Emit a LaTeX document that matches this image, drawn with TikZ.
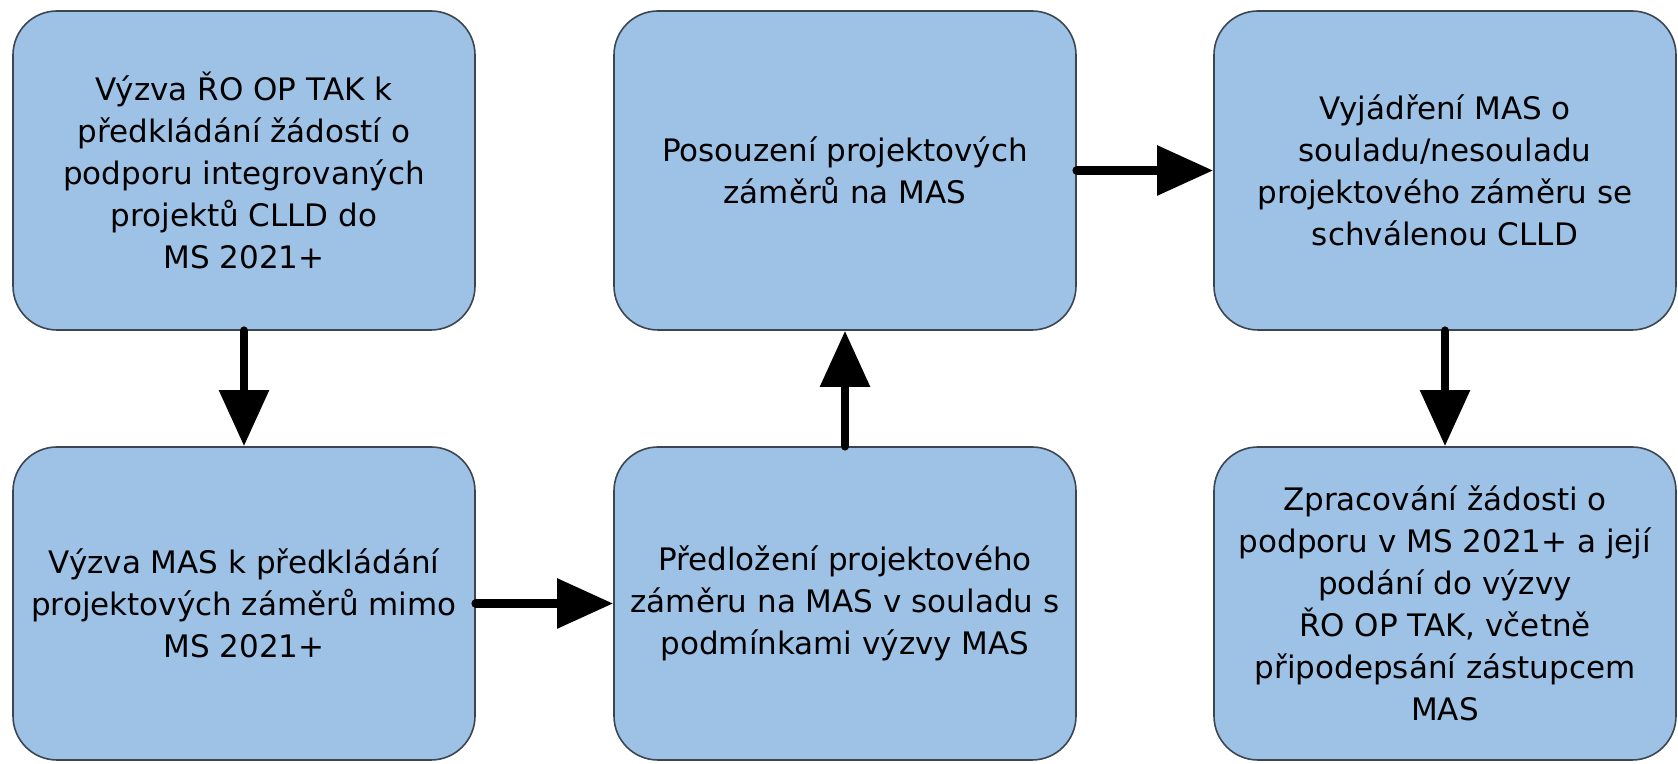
\documentclass[tikz,border=0pt]{standalone}
\usepackage{fontspec}
\setmainfont{DejaVu Sans}
\usetikzlibrary{arrows.meta}
\definecolor{boxblue}{RGB}{157,194,230}
\definecolor{boxline}{RGB}{60,70,82}
\tikzset{
	box/.style={draw=boxline, line width=0.8pt, fill=boxblue, rounded corners=22pt, minimum width=231pt, align=center, font=\fontsize{15.5}{21}\selectfont},
	arr/.style={line width=4.4pt, line cap=round, -{Triangle[width=24pt,length=28pt]}}
}

\begin{document}
\begin{tikzpicture}[x=0.5pt,y=0.5pt]
	\useasboundingbox (0,0) rectangle (1678,764);

	\node[box, minimum height=159.5pt] (vyzvaro) at (244,593.5) {Výzva ŘO OP TAK k\\předkládání žádostí o\\podporu integrovaných\\projektů CLLD do\\MS 2021+};
	\node[box, minimum height=159.5pt] (posouzeni) at (845,593.5) {Posouzení projektových\\záměrů na MAS};
	\node[box, minimum height=159.5pt] (vyjadreni) at (1445,593.5) {Vyjádření MAS o\\souladu/nesouladu\\projektového záměru se\\schválenou CLLD};

	\node[box, minimum height=156.5pt] (vyzvamas) at (244,160.5) {Výzva MAS k předkládání\\projektových záměrů mimo\\MS 2021+};
	\node[box, minimum height=156.5pt] (predlozeni) at (845,160.5) {Předložení projektového\\záměru na MAS v souladu s\\podmínkami výzvy MAS};
	\node[box, minimum height=156.5pt] (zpracovani) at (1445,160.5) {Zpracování žádosti o\\podporu v MS 2021+ a její\\podání do výzvy\\ŘO OP TAK, včetně\\připodepsání zástupcem\\MAS};

	\draw[arr] (vyzvaro.south) -- (vyzvamas.north);
	\draw[arr] (vyzvamas.east) -- (predlozeni.west);
	\draw[arr] (predlozeni.north) -- (posouzeni.south);
	\draw[arr] (posouzeni.east) -- (vyjadreni.west);
	\draw[arr] (vyjadreni.south) -- (zpracovani.north);

\end{tikzpicture}
\end{document}
